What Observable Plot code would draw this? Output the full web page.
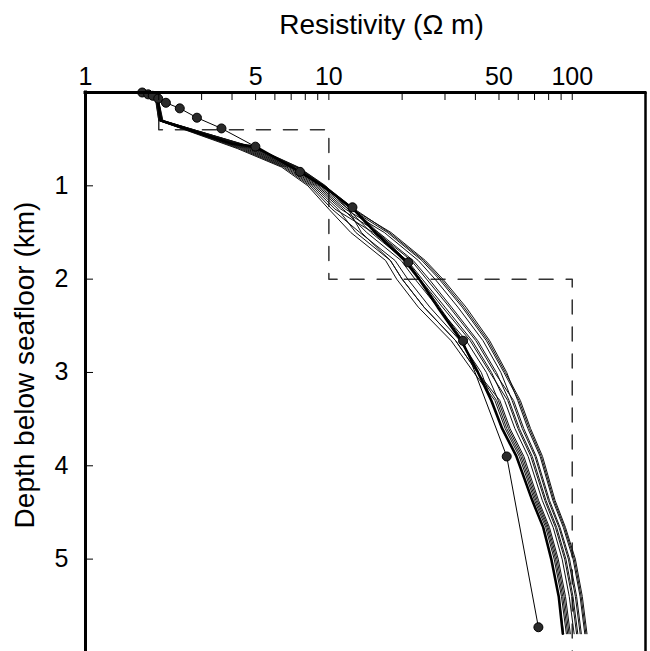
<!DOCTYPE html>
<html><head><meta charset="utf-8">
<script src="https://cdn.jsdelivr.net/npm/d3@7"></script>
<script src="https://cdn.jsdelivr.net/npm/@observablehq/plot@0.6"></script>
<style>body{margin:0;background:#fff}</style>
</head><body><div id="chart"></div>
<script>
// Depth nodes (km) shared by the thin inversion models
const thinDepths = [0,0.04,0.3,0.6,0.8,1.0,1.25,1.5,1.8,2.0,2.3,2.66,3.0,3.3,3.6,3.9,4.37,4.66,5.0,5.4,5.8];
// Resistivity (ohm m) of each thin model at those depths
const modelA = [1.70,1.93,2.00,4.2,6.4,8.2,10.0,12.3,17.1,19.0,23.3,31.8,39.4,48.1,53.0,60.6,70.0,77.8,84.3,90.3,94.6];
const modelB = [1.71,1.94,2.01,4.29,6.51,8.35,10.3,13.4,18.7,21.1,26.0,34.6,42.3,46.6,51.3,58.9,68.3,75.9,82.1,88.0,92.2];
const modelC = [1.72,1.95,2.02,4.47,6.73,8.65,10.9,12.9,17.9,20.0,24.6,33.2,40.8,50.4,55.5,63.3,72.7,80.6,87.6,93.8,98.2];
const modelD = [1.70,1.96,2.03,4.65,6.95,8.95,11.45,14.3,19.8,22.6,28.0,36.7,44.4,49.7,54.7,62.4,71.8,79.7,86.5,92.6,97.0];
const modelE = [1.71,1.94,2.00,4.38,6.62,8.5,10.6,15.2,21.0,24.2,30.0,38.8,46.6,52.7,58.1,65.9,75.3,83.5,90.9,97.2,101.8];
const modelF = [1.72,1.97,2.05,4.83,7.17,9.25,12.0,14.9,20.6,23.7,29.3,38.1,45.9,54.3,59.8,67.6,77.1,85.3,93.1,99.6,104.2];
const modelG = [1.73,1.95,2.02,4.56,6.84,8.8,11.2,16.0,22.2,25.8,31.9,40.9,48.8,55.0,60.6,68.5,78.0,86.3,94.2,100.7,105.4];
const modelH = [1.71,1.98,2.06,5.01,7.39,9.55,12.6,15.7,21.8,25.2,31.3,40.2,48.0,57.4,63.2,71.1,80.6,89.1,97.5,104.2,109.0];
const modelI = [1.72,1.96,2.04,4.74,7.06,9.1,11.7,16.9,23.3,27.3,33.9,43.0,50.9,56.6,62.3,70.3,79.7,88.2,96.4,103.0,107.8];
const modelJ = [1.70,1.98,2.07,5.1,7.5,9.7,12.0,13.6,17.9,20.0,24.6,33.2,40.8,48.9,53.8,61.5,70.9,78.8,85.4,91.4,95.8];
const modelK = [1.73,1.97,2.05,4.92,7.28,9.4,12.3,17.4,24.1,28.4,35.3,44.4,52.4,60.4,66.6,74.6,84.1,92.9,101.9,108.8,113.8];
const modelL = [1.71,1.96,2.06,4.97,7.34,9.5,12.5,18.0,24.9,29.4,36.6,45.8,53.8,59.7,65.7,73.8,83.2,91.9,100.8,107.7,112.6];
const modelM = [1.72,1.98,2.08,5.06,7.45,9.63,12.75,17.7,24.5,28.9,35.9,45.1,53.1,61.2,67.4,75.5,85.0,93.8,103.0,110.0,115.0];

// Thick (preferred) model
const thickDepths = [0,0.04,0.08,0.3,0.55,0.58,0.85,1.02,1.25,1.5,1.8,2.0,2.3,2.66,3.0,3.3,3.6,3.9,4.37,4.66,5.0,5.4,5.8];
const thickRes    = [1.71,1.93,1.98,2.04,4.0,5.0,7.6,9.7,12.6,15.5,20.5,23.5,28.0,35.0,41.0,46.5,51.5,59.0,68.5,76.0,82.0,88.0,91.5];

// Model with circle markers
const dotDepths = [0.0,0.02,0.035,0.065,0.11,0.17,0.27,0.385,0.58,0.85,1.23,1.82,2.66,3.90,5.73];
const dotRes    = [1.71,1.81,1.89,1.99,2.14,2.44,2.87,3.62,4.99,7.61,12.5,21.2,35.6,53.8,72.6];

// True (starting) model, dashed
const trueDepths = [0,0.4,0.4,2.0,2.0,6.0];
const trueRes    = [2,2,10,10,100,100];

const xTickLabels = [1,5,10,50,100];
const xTicks = [1,2,3,4,5,6,7,8,9,10,20,30,40,50,60,70,80,90,100];
const yTicks = [1,2,3,4,5];

const thinModels = [modelA,modelB,modelC,modelD,modelE,modelF,modelG,modelH,modelI,modelJ,modelK,modelL,modelM];
const thinRows = thinModels.flatMap((m, k) => m.map((r, i) => ({model: k, r, d: thinDepths[i]})));
const thickRows = thickRes.map((r, i) => ({r, d: thickDepths[i]}));
const dotRows = dotRes.map((r, i) => ({r, d: dotDepths[i]}));
const trueRows = trueRes.map((r, i) => ({r, d: trueDepths[i]}));

const font = "'Liberation Sans', Arial, Helvetica, sans-serif";

const chart = Plot.plot({
  width: 650, height: 651,
  marginLeft: 85, marginRight: 5, marginTop: 92, marginBottom: 0,
  style: {fontFamily: font, background: "#fff", color: "#000"},
  x: {type: "log", domain: [1, 200]},
  y: {domain: [0, 5.99], reverse: true},
  marks: [
    Plot.line(trueRows, {x: "r", y: "d", stroke: "#333", strokeWidth: 1.5, strokeDasharray: "14,13"}),
    Plot.line(thinRows, {x: "r", y: "d", z: "model", stroke: "#111", strokeWidth: 1}),
    Plot.line(thickRows, {x: "r", y: "d", stroke: "#000", strokeWidth: 2.6}),
    Plot.line(dotRows, {x: "r", y: "d", stroke: "#000", strokeWidth: 1}),
    Plot.dot(dotRows, {x: "r", y: "d", r: 4.5, fill: "#2a2a2a", stroke: "#000", strokeWidth: 1}),
    Plot.axisX({anchor: "top", ticks: xTicks, tickSize: -7, tickFormat: () => "", label: null, strokeWidth: 1}),
    Plot.axisX({anchor: "top", ticks: xTickLabels, tickSize: 0, tickPadding: 8, fontSize: 25, tickFormat: d => String(d), label: null}),
    Plot.axisY({anchor: "left", ticks: yTicks, tickSize: -8, tickFormat: () => "", label: null, strokeWidth: 1}),
    Plot.axisY({anchor: "left", ticks: yTicks, tickSize: 0, tickPadding: 17, fontSize: 25, tickFormat: d => String(d), label: null}),
    Plot.ruleX([1], {strokeWidth: 3, strokeLinecap: "square"}),
    Plot.ruleX([200], {strokeWidth: 2.5}),
    Plot.ruleY([0], {strokeWidth: 3, strokeLinecap: "square"}),
    Plot.text(["Resistivity (Ω m)"], {text: d => d, frameAnchor: "top", lineAnchor: "top", textAnchor: "middle", dx: 16, dy: -78, fontSize: 28}),
    Plot.text(["Depth below seafloor (km)"], {text: d => d, frameAnchor: "left", textAnchor: "middle", lineAnchor: "middle", rotate: -90, dx: -60, dy: -7, fontSize: 28})
  ]
});
document.getElementById("chart").appendChild(chart);
</script>
</body></html>
